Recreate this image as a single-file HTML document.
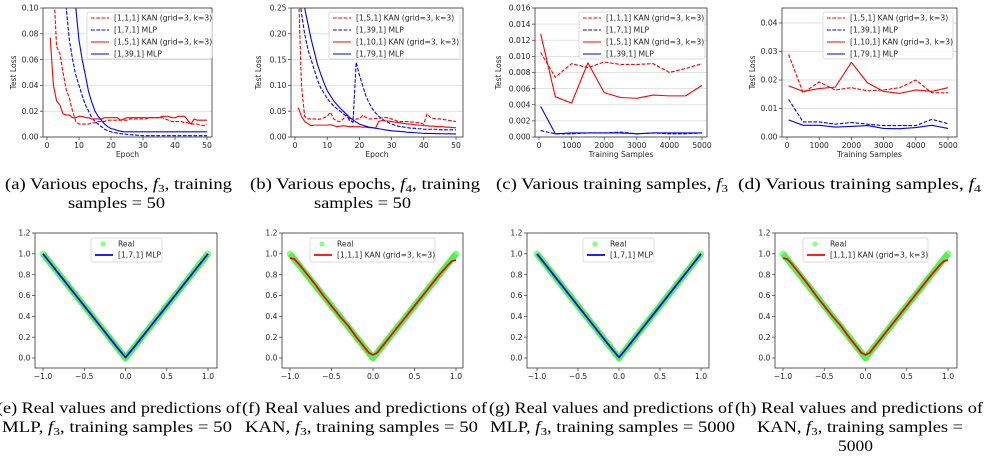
<!DOCTYPE html>
<html><head><meta charset="utf-8">
<style>
html,body{margin:0;padding:0;background:#fff;}
svg{display:block;}
.tk{font-family:"DejaVu Sans","Liberation Sans",sans-serif;font-size:7.6px;fill:#262626;}
.cap{font-family:"Liberation Serif","Times New Roman",Times,serif;font-size:15.5px;fill:#000;}
</style></head>
<body>
<svg id="fig" width="988" height="458" viewBox="0 0 988 458" xmlns="http://www.w3.org/2000/svg">
<g id="captions" font-family="Liberation Serif, Times New Roman, serif">
<text class="cap" x="5" y="189" textLength="227" lengthAdjust="spacingAndGlyphs">(a) Various epochs, <tspan font-style="italic">f</tspan><tspan font-size="11" dy="3">3</tspan><tspan dy="-3">, training</tspan></text>
<text class="cap" x="68" y="208" textLength="97" lengthAdjust="spacingAndGlyphs">samples = 50</text>
<text class="cap" x="250" y="189" textLength="230" lengthAdjust="spacingAndGlyphs">(b) Various epochs, <tspan font-style="italic">f</tspan><tspan font-size="11" dy="3">4</tspan><tspan dy="-3">, training</tspan></text>
<text class="cap" x="314" y="208" textLength="97" lengthAdjust="spacingAndGlyphs">samples = 50</text>
<text class="cap" x="496" y="189" textLength="232" lengthAdjust="spacingAndGlyphs">(c) Various training samples, <tspan font-style="italic">f</tspan><tspan font-size="11" dy="3">3</tspan></text>
<text class="cap" x="738" y="189" textLength="243" lengthAdjust="spacingAndGlyphs">(d) Various training samples, <tspan font-style="italic">f</tspan><tspan font-size="11" dy="3">4</tspan></text>
<text class="cap" x="-3" y="413" textLength="244" lengthAdjust="spacingAndGlyphs">(e) Real values and predictions of</text>
<text class="cap" x="2" y="432" textLength="230" lengthAdjust="spacingAndGlyphs">MLP, <tspan font-style="italic">f</tspan><tspan font-size="11" dy="3">3</tspan><tspan dy="-3">, training samples = 50</tspan></text>
<text class="cap" x="242" y="413" textLength="245" lengthAdjust="spacingAndGlyphs">(f) Real values and predictions of</text>
<text class="cap" x="245" y="432" textLength="233" lengthAdjust="spacingAndGlyphs">KAN, <tspan font-style="italic">f</tspan><tspan font-size="11" dy="3">3</tspan><tspan dy="-3">, training samples = 50</tspan></text>
<text class="cap" x="489" y="413" textLength="244" lengthAdjust="spacingAndGlyphs">(g) Real values and predictions of</text>
<text class="cap" x="490" y="432" textLength="245" lengthAdjust="spacingAndGlyphs">MLP, <tspan font-style="italic">f</tspan><tspan font-size="11" dy="3">3</tspan><tspan dy="-3">, training samples = 5000</tspan></text>
<text class="cap" x="735" y="413" textLength="248" lengthAdjust="spacingAndGlyphs">(h) Real values and predictions of</text>
<text class="cap" x="757" y="432" textLength="206" lengthAdjust="spacingAndGlyphs">KAN, <tspan font-style="italic">f</tspan><tspan font-size="11" dy="3">3</tspan><tspan dy="-3">, training samples =</tspan></text>
<text class="cap" x="838" y="451" textLength="35" lengthAdjust="spacingAndGlyphs">5000</text>
</g>
</svg>
<script>
// ---------- data ----------
const epochs = [1,2,3,4,5,6,7,8,9,10,11,12,13,14,15,16,17,18,19,20,21,22,23,24,25,26,27,28,29,30,31,32,33,34,35,36,37,38,39,40,41,42,43,44,45,46,47,48,49,50];
const aKan111 = [0.3,0.12,0.07,0.065,0.05,0.037,0.03,0.02,0.012,0.01,0.01,0.01,0.01,0.011,0.011,0.012,0.012,0.012,0.013,0.013,0.013,0.013,0.013,0.013,0.013,0.014,0.014,0.014,0.014,0.014,0.014,0.015,0.015,0.015,0.015,0.015,0.014,0.013,0.012,0.012,0.012,0.012,0.011,0.011,0.01,0.01,0.01,0.009,0.009,0.01];
const aKan151 = [0.077,0.04,0.028,0.025,0.018,0.017,0.017,0.015,0.015,0.016,0.016,0.015,0.015,0.014,0.014,0.014,0.014,0.015,0.015,0.015,0.015,0.015,0.013,0.014,0.015,0.015,0.015,0.015,0.015,0.015,0.015,0.015,0.015,0.015,0.015,0.016,0.016,0.016,0.015,0.015,0.016,0.016,0.016,0.013,0.01,0.014,0.013,0.013,0.013,0.013];
const aMlp171 = [0.5,0.4,0.3,0.2,0.14,0.1,0.075,0.06,0.048,0.04,0.032,0.025,0.02,0.015,0.012,0.01,0.008,0.006,0.005,0.004,0.0035,0.003,0.0026,0.0023,0.002,0.0018,0.0016,0.0014,0.0012,0.001,0.001,0.001,0.001,0.001,0.001,0.001,0.001,0.001,0.001,0.001,0.001,0.001,0.001,0.001,0.001,0.001,0.001,0.001,0.001,0.001];
const aMlp1391 = [0.6,0.5,0.4,0.3,0.25,0.2,0.16,0.13,0.1,0.075,0.06,0.048,0.035,0.027,0.02,0.016,0.013,0.01,0.008,0.0065,0.006,0.005,0.0045,0.004,0.004,0.004,0.004,0.004,0.004,0.004,0.004,0.004,0.004,0.004,0.004,0.004,0.004,0.004,0.004,0.004,0.004,0.004,0.004,0.004,0.004,0.004,0.004,0.004,0.004,0.004];
const bKan151 = [0.3,0.1,0.04,0.035,0.035,0.035,0.034,0.035,0.037,0.04,0.048,0.035,0.031,0.03,0.035,0.043,0.03,0.03,0.035,0.035,0.042,0.038,0.035,0.035,0.036,0.036,0.037,0.038,0.037,0.035,0.033,0.03,0.03,0.03,0.03,0.029,0.029,0.028,0.027,0.025,0.045,0.038,0.036,0.035,0.035,0.034,0.033,0.032,0.031,0.03];
const bKan1101 = [0.057,0.04,0.03,0.026,0.022,0.023,0.023,0.023,0.023,0.023,0.024,0.022,0.02,0.021,0.022,0.021,0.02,0.02,0.02,0.02,0.019,0.019,0.018,0.018,0.017,0.03,0.032,0.031,0.031,0.03,0.029,0.028,0.027,0.026,0.025,0.025,0.024,0.023,0.023,0.022,0.022,0.021,0.021,0.02,0.02,0.02,0.019,0.019,0.018,0.018];
const bMlp1391 = [0.3,0.24,0.2,0.17,0.15,0.13,0.11,0.095,0.085,0.075,0.067,0.06,0.055,0.05,0.045,0.04,0.035,0.028,0.145,0.12,0.1,0.08,0.066,0.055,0.047,0.04,0.035,0.031,0.028,0.025,0.023,0.021,0.02,0.019,0.018,0.017,0.017,0.016,0.016,0.015,0.015,0.015,0.015,0.015,0.014,0.014,0.014,0.014,0.014,0.014];
const bMlp1791 = [0.4,0.3,0.25,0.22,0.19,0.165,0.14,0.122,0.105,0.09,0.08,0.07,0.063,0.056,0.05,0.044,0.038,0.033,0.029,0.025,0.023,0.021,0.019,0.018,0.017,0.016,0.015,0.014,0.013,0.012,0.0115,0.011,0.0105,0.01,0.009,0.0088,0.0085,0.008,0.0075,0.007,0.007,0.0068,0.0066,0.0065,0.0064,0.0063,0.0062,0.0061,0.006,0.006];
const samples = [50,500,1000,1500,2000,2500,3000,3500,4000,4500,5000];
const cKan111 = [0.0105,0.0074,0.0091,0.0086,0.0093,0.0090,0.0090,0.0091,0.0080,0.0085,0.0091];
const cKan151 = [0.0128,0.0050,0.0042,0.0092,0.0055,0.0049,0.0048,0.0052,0.0051,0.0051,0.0064];
const cMlp171 = [0.0008,0.0004,0.0004,0.0005,0.0005,0.0006,0.0004,0.0005,0.0004,0.0004,0.0005];
const cMlp1391 = [0.0038,0.0004,0.0005,0.0005,0.0005,0.0005,0.0004,0.0005,0.0005,0.0005,0.0005];
const dKan151 = [0.029,0.0155,0.0193,0.0165,0.0173,0.0162,0.0165,0.0173,0.020,0.0155,0.0155];
const dKan1101 = [0.018,0.016,0.017,0.0175,0.0262,0.019,0.016,0.0153,0.0165,0.016,0.0173];
const dMlp1391 = [0.0132,0.0053,0.0053,0.0045,0.0051,0.0045,0.004,0.004,0.004,0.0062,0.0047];
const dMlp1791 = [0.006,0.0041,0.0041,0.0035,0.0037,0.004,0.003,0.0029,0.0033,0.0041,0.003];
const realX = [-1,-0.9,-0.8,-0.7,-0.6,-0.5,-0.4,-0.3,-0.2,-0.1,0,0.1,0.2,0.3,0.4,0.5,0.6,0.7,0.8,0.9,1];
const realY = [1,0.9,0.8,0.7,0.6,0.5,0.4,0.3,0.2,0.1,0,0.1,0.2,0.3,0.4,0.5,0.6,0.7,0.8,0.9,1];
const mlpPred = [1,0.9,0.8,0.7,0.6,0.5,0.4,0.3,0.2,0.1,0.005,0.1,0.2,0.3,0.4,0.5,0.6,0.7,0.8,0.9,1];
const kanPredX = [-1,-0.95,-0.9,-0.8,-0.7,-0.6,-0.5,-0.4,-0.3,-0.2,-0.1,-0.05,0,0.05,0.1,0.2,0.3,0.4,0.5,0.6,0.7,0.8,0.9,0.95,1];
const kanPred = [0.96,0.95,0.91,0.81,0.71,0.6,0.5,0.4,0.31,0.2,0.1,0.05,0.03,0.05,0.1,0.2,0.3,0.4,0.5,0.6,0.7,0.8,0.89,0.93,0.94];
const tickEpoch = [0,10,20,30,40,50];
const tickSamples = [0,1000,2000,3000,4000,5000];
const tickA = ["0.00","0.02","0.04","0.06","0.08","0.10"];
const tickB = ["0.00","0.05","0.10","0.15","0.20","0.25"];
const tickC = ["0.000","0.002","0.004","0.006","0.008","0.010","0.012","0.014","0.016"];
const tickD = ["0.00","0.01","0.02","0.03","0.04"];
const tickXV = ["-1.0","-0.5","0.0","0.5","1.0"];
const tickYV = ["0.0","0.2","0.4","0.6","0.8","1.0","1.2"];

// ---------- drawing ----------
const NS="http://www.w3.org/2000/svg";
const fig=document.getElementById('fig');
function mk(tag,attrs,parent){const e=document.createElementNS(NS,tag);for(const k in attrs)e.setAttribute(k,attrs[k]);(parent||fig).appendChild(e);return e;}
let clipId=0;
function panel(p){
  const g=mk('g',{});
  
  
  const sx=v=>p.x0+(v-p.xv0)*(p.x1-p.x0)/(p.xv1-p.xv0);
  const sy=v=>p.y0+(v-p.yv0)*(p.y1-p.y0)/(p.yv1-p.yv0);
  p.yt.forEach(t=>{const y=sy(parseFloat(t));
    if(p.grid){const l=mk('line',{x1:p.L,x2:p.R,y1:y,y2:y,stroke:'#d9d9d9','stroke-width':0.8},g);
      }
    mk('line',{x1:p.L-3,x2:p.L,y1:y,y2:y,stroke:'#333','stroke-width':0.7},g);
    const tx=mk('text',{class:'tk',x:p.L-4.5,y:y+2.7,'text-anchor':'end'},g);tx.textContent=t.replace('-','\u2212');
    });
  p.xt.forEach(t=>{const x=sx(parseFloat(t));
    mk('line',{x1:x,x2:x,y1:p.B,y2:p.B+3,stroke:'#333','stroke-width':0.7},g);
    const tx=mk('text',{class:'tk',x:x,y:p.B+11,'text-anchor':'middle'},g);tx.textContent=String(t).replace('-','\u2212');
    });
  const id='c'+(clipId++);
  const cp=mk('clipPath',{id:id},g);mk('rect',{x:p.L,y:p.T,width:p.R-p.L,height:p.B-p.T},cp);
  const plot=mk('g',{'clip-path':'url(#'+id+')'},g);
  
  (p.scatter||[]).forEach(s=>{s.x.forEach((xv,i)=>{const c=mk('circle',{cx:sx(xv),cy:sy(s.y[i]),r:3.3,fill:'#66ff66',opacity:0.8},plot);
    });
    const pl=mk('polyline',{points:s.x.map((xv,i)=>sx(xv)+','+sy(s.y[i])).join(' '),fill:'none',stroke:'#55f055','stroke-width':6.4,'stroke-linejoin':'round'},plot);
    });
  p.series.forEach(s=>{const pl=mk('polyline',{points:s.x.map((xv,i)=>sx(xv)+','+sy(s.y[i])).join(' '),fill:'none',stroke:s.c,'stroke-width':s.w||1.1,'stroke-dasharray':s.d?'3.7,1.6':'none','stroke-linejoin':'round'},plot);
    });
  const fr=mk('rect',{x:p.L,y:p.T,width:p.R-p.L,height:p.B-p.T,fill:'none',stroke:'#333','stroke-width':0.8},g);
  
  if(p.xl){const t=mk('text',{class:'tk',x:(p.L+p.R)/2,y:p.B+20,'text-anchor':'middle'},g);t.textContent=p.xl;
    }
  if(p.yl){const t=mk('text',{class:'tk',x:0,y:0,'text-anchor':'middle',transform:'translate('+p.ylx+','+(p.T+p.B)/2+') rotate(-90)'},g);t.textContent=p.yl;
    }
  const lg=p.lg;const lgG=mk('g',{},g);
  
  mk('rect',{x:lg.x,y:lg.y,width:lg.w,height:lg.h,rx:2,fill:'#fff','fill-opacity':0.85,stroke:'#d0d0d0','stroke-width':0.7},lgG);
  lg.items.forEach((it,i)=>{const y=lg.y+6+i*lg.dy;
    if(it.dot){mk('circle',{cx:lg.x+12,cy:y,r:2.6,fill:'#66ff66',opacity:0.8},lgG);}
    else mk('line',{x1:lg.x+4,x2:lg.x+22,y1:y,y2:y,stroke:it.c,'stroke-width':it.w||1.1,'stroke-dasharray':it.d?'3.7,1.6':'none'},lgG);
    const t=mk('text',{class:'tk',x:lg.x+27,y:y+2.6},lgG);t.textContent=it.t;
    });
}
const R='#ff0000',Bl='#0000ff';
panel({name:'chart-a',L:43,R:212,T:8,B:137,x0:47,x1:207,xv0:0,xv1:50,y0:137,y1:8,yv0:0,yv1:0.1,grid:true,
  yt:tickA,xt:tickEpoch,xl:'Epoch',yl:'Test Loss',ylx:16,
  series:[{name:'kan-111-line',x:epochs,y:aKan111,c:R,d:1},{name:'mlp-171-line',x:epochs,y:aMlp171,c:Bl,d:1},{name:'kan-151-line',x:epochs,y:aKan151,c:R},{name:'mlp-1391-line',x:epochs,y:aMlp1391,c:Bl}],
  lg:{x:87,y:12,w:125,h:47,dy:12,items:[{t:'[1,1,1] KAN (grid=3, k=3)',c:R,d:1},{t:'[1,7,1] MLP',c:Bl,d:1},{t:'[1,5,1] KAN (grid=3, k=3)',c:R},{t:'[1,39,1] MLP',c:Bl}]}});
panel({name:'chart-b',L:291,R:463,T:8,B:137,x0:295,x1:456,xv0:0,xv1:50,y0:137,y1:8,yv0:0,yv1:0.25,grid:true,
  yt:tickB,xt:tickEpoch,xl:'Epoch',yl:'Test Loss',ylx:261,
  series:[{name:'kan-151-line',x:epochs,y:bKan151,c:R,d:1},{name:'mlp-1391-line',x:epochs,y:bMlp1391,c:Bl,d:1},{name:'kan-1101-line',x:epochs,y:bKan1101,c:R},{name:'mlp-1791-line',x:epochs,y:bMlp1791,c:Bl}],
  lg:{x:329,y:12,w:131,h:47,dy:12,items:[{t:'[1,5,1] KAN (grid=3, k=3)',c:R,d:1},{t:'[1,39,1] MLP',c:Bl,d:1},{t:'[1,10,1] KAN (grid=3, k=3)',c:R},{t:'[1,79,1] MLP',c:Bl}]}});
panel({name:'chart-c',L:535,R:707,T:8,B:137,x0:539,x1:702,xv0:0,xv1:5000,y0:137,y1:8,yv0:0,yv1:0.016,grid:true,
  yt:tickC,xt:tickSamples,xl:'Training Samples',yl:'Test Loss',ylx:501,
  series:[{name:'kan-111-line',x:samples,y:cKan111,c:R,d:1},{name:'mlp-171-line',x:samples,y:cMlp171,c:Bl,d:1},{name:'kan-151-line',x:samples,y:cKan151,c:R},{name:'mlp-1391-line',x:samples,y:cMlp1391,c:Bl}],
  lg:{x:579,y:12,w:126,h:47,dy:12,items:[{t:'[1,1,1] KAN (grid=3, k=3)',c:R,d:1},{t:'[1,7,1] MLP',c:Bl,d:1},{t:'[1,5,1] KAN (grid=3, k=3)',c:R},{t:'[1,39,1] MLP',c:Bl}]}});
panel({name:'chart-d',L:782,R:957,T:8,B:137,x0:787,x1:948,xv0:0,xv1:5000,y0:137,y1:23,yv0:0,yv1:0.04,grid:true,
  yt:tickD,xt:tickSamples,xl:'Training Samples',yl:'Test Loss',ylx:755,
  series:[{name:'kan-151-line',x:samples,y:dKan151,c:R,d:1},{name:'mlp-1391-line',x:samples,y:dMlp1391,c:Bl,d:1},{name:'kan-1101-line',x:samples,y:dKan1101,c:R},{name:'mlp-1791-line',x:samples,y:dMlp1791,c:Bl}],
  lg:{x:823,y:12,w:130,h:47,dy:12,items:[{t:'[1,5,1] KAN (grid=3, k=3)',c:R,d:1},{t:'[1,39,1] MLP',c:Bl,d:1},{t:'[1,10,1] KAN (grid=3, k=3)',c:R},{t:'[1,79,1] MLP',c:Bl}]}});
const bot=[{n:'chart-e',L:35,R:217,x0:43,x1:208,kan:false,lx:91,lw:71,lab:'[1,7,1] MLP'},
 {n:'chart-f',L:282,R:463,x0:290,x1:456,kan:true,lx:310,lw:125,lab:'[1,1,1] KAN (grid=3, k=3)'},
 {n:'chart-g',L:527,R:709,x0:537,x1:701,kan:false,lx:583,lw:71,lab:'[1,7,1] MLP'},
 {n:'chart-h',L:775,R:957,x0:783,x1:948,kan:true,lx:803,lw:125,lab:'[1,1,1] KAN (grid=3, k=3)'}];
bot.forEach(b=>{
  panel({name:b.n,L:b.L,R:b.R,T:233,B:368,x0:b.x0,x1:b.x1,xv0:-1,xv1:1,y0:358,y1:233,yv0:0,yv1:1.2,grid:false,
    yt:tickYV,xt:tickXV,
    scatter:[{x:realX,y:realY}],
    series:[b.kan?{name:'kan-prediction-line',x:kanPredX,y:kanPred,c:R,w:1.8}:{name:'mlp-prediction-line',x:realX,y:mlpPred,c:Bl,w:1.8}],
    lg:{x:b.lx,y:238,w:b.lw,h:24,dy:11,items:[{t:'Real',dot:1},{t:b.lab,c:b.kan?R:Bl,w:1.8}]}});
});
</script>
</body></html>
